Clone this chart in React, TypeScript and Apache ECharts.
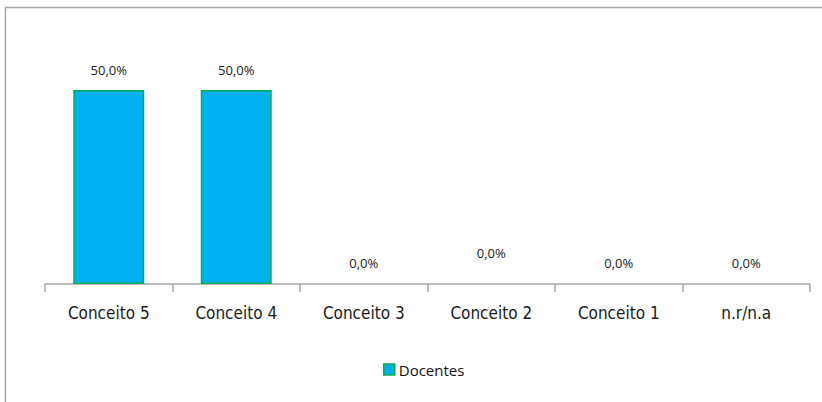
import React, { useEffect, useRef } from "react";
import * as echarts from "echarts";

const categories = ["Conceito 5", "Conceito 4", "Conceito 3", "Conceito 2", "Conceito 1", "n.r/n.a"];
const values = [50, 50, 0, 0, 0, 0];
const seriesName = "Docentes";
const labelDistances = [14, 14, 15, 25, 15, 15];

export default function App() {
  const ref = useRef<HTMLDivElement>(null);
  useEffect(() => {
    if (!ref.current) return;
    const chart = echarts.init(ref.current, undefined, { renderer: "svg" });
    chart.setOption({
      animation: false,
      backgroundColor: "#ffffff",
      graphic: [
        {
          type: "rect",
          shape: { x: 5.5, y: 7.5, width: 830, height: 410 },
          style: { fill: "none", stroke: "#a6a6a6", lineWidth: 1.5 },
          silent: true,
        },
      ],
      grid: { left: 45, right: 12, top: 90, bottom: 118, containLabel: false },
      legend: {
        data: [seriesName],
        left: 378,
        top: 357,
        itemWidth: 11,
        itemHeight: 11,
        itemGap: 4,
        icon: "rect",
        itemStyle: { color: "#00b0f0", borderColor: "#00b050", borderWidth: 1.5 },
        textStyle: { fontFamily: "Open Sans", fontSize: 15, color: "#111", padding: [0, 0, 0, -1] },
      },
      xAxis: {
        type: "category",
        data: categories,
        axisLine: { lineStyle: { color: "#a6a6a6", width: 1.5 } },
        axisTick: { show: true, length: 8, alignWithLabel: false, lineStyle: { color: "#a6a6a6", width: 1.5 } },
        axisLabel: {
          fontFamily: "DejaVu Sans Condensed",
          fontSize: 17,
          color: "#1a1a1a",
          margin: 20,
          interval: 0,
        },
      },
      yAxis: { type: "value", min: 0, max: 50, show: false, splitLine: { show: false } },
      series: [
        {
          name: seriesName,
          type: "bar",
          barWidth: 71,
          data: values.map((v, i) => ({
            value: v,
            label: { distance: labelDistances[i] },
            itemStyle: { borderWidth: v > 0 ? 1.5 : 0 },
          })),
          itemStyle: { color: "#00b0f0", borderColor: "#00b050", borderWidth: 1.5 },
          label: {
            show: true,
            position: "top",
            fontFamily: "Open Sans",
            fontSize: 13,
            color: "#222",
            formatter: (p: any) => p.value.toFixed(1).replace(".", ",") + "%",
          },
        },
      ],
    });
    return () => chart.dispose();
  }, []);
  return <div ref={ref} style={{ position: "fixed", left: 0, top: 0, width: 822, height: 402 }} />;
}
